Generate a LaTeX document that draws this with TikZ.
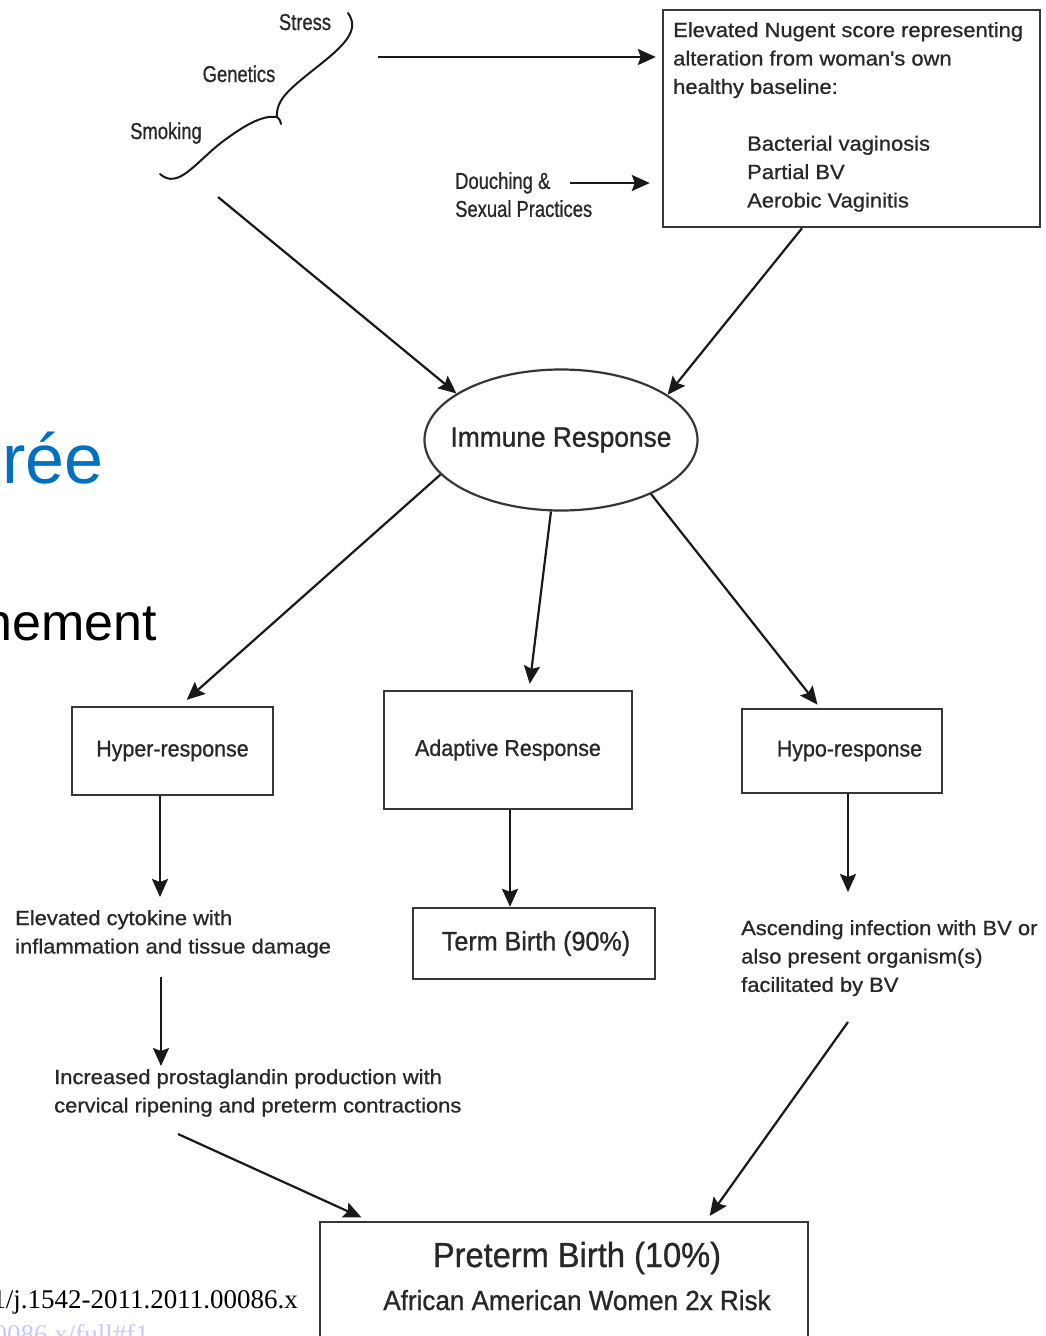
\documentclass[tikz,border=0pt]{standalone}
\usepackage{fontspec}
\setmainfont{Liberation Sans}
\newfontfamily\fA{Liberation Sans}[FakeStretch=0.80,FakeBold=0.8]
\newfontfamily\fN{Liberation Sans}[FakeStretch=0.94,FakeBold=0.9]
\newfontfamily\fB{Liberation Sans}[FakeStretch=1.07,FakeBold=0.8]
\newfontfamily\fT{Liberation Serif}
\usetikzlibrary{arrows.meta,shapes.geometric}
\definecolor{ink}{RGB}{25,25,25}
\definecolor{txt}{RGB}{40,40,40}
\definecolor{edge}{RGB}{55,55,55}
\definecolor{slideblue}{RGB}{0,112,192}
\definecolor{faintblue}{RGB}{200,200,250}
\begin{document}
\begin{tikzpicture}[x=1pt,y=-1pt,
  box/.style={draw=edge,line width=2.4pt,rectangle,inner sep=0pt,text=txt},
  arr/.style={-{Stealth[length=18pt,width=16pt,inset=3pt,fill=ink]},line width=2.2pt,draw=ink},
  brace/.style={line width=2pt,draw=ink,line cap=round},
  lbA/.style={inner sep=0pt,text=txt,font={\fA\fontsize{23}{28}\selectfont}},
  lbB/.style={inner sep=0pt,text=txt,align=left,font={\fB\fontsize{20.5}{28.4}\selectfont}},
  boxfont/.style={font={\fN\fontsize{22.8}{27}\selectfont}}]
\fill[white] (0,0) rectangle (1045,1336);
\clip (0,0) rectangle (1045,1336);

% slide fragments
\node[anchor=base east,inner sep=0pt,text=slideblue,font={\fontsize{70}{70}\selectfont}] (frag1) at (104,483) {rée};
\node[anchor=base east,inner sep=0pt,text=black,font={\fontsize{52}{52}\selectfont}] (frag2) at (157,640) {nement};
\node[anchor=base east,inner sep=0pt,text=black,font={\fT\fontsize{27}{27}\selectfont}] (cite1) at (298,1308) {1/j.1542-2011.2011.00086.x};
\node[anchor=base east,inner sep=0pt,text=faintblue,font={\fT\fontsize{27}{27}\selectfont}] (cite2) at (149,1343) {0086.x/full\#f1};

% risk factors
\node[lbA,anchor=base] (stress) at (305,30) {Stress};
\node[lbA,anchor=base] (gen) at (239,82) {Genetics};
\node[lbA,anchor=base] (smok) at (166,139) {Smoking};
\draw[brace] (348,13) .. controls (360,30) and (345,45) .. (317,67)
  .. controls (288,90) and (276,100) .. (277,117) .. controls (280,120) .. (281,124);
\draw[brace] (277,117) .. controls (262,115) and (245,125) .. (222,142)
  .. controls (195,163) and (178,190) .. (160,174);

% Nugent box
\node[box,minimum width=377pt,minimum height=217pt] (nug) at (851.5,118.5) {};
\node[lbB,anchor=north west] (nugtxt) at (673,22) {Elevated Nugent score representing\\alteration from woman's own\\healthy baseline:\\[28.4pt]\hspace*{74pt}Bacterial vaginosis\\\hspace*{74pt}Partial BV\\\hspace*{74pt}Aerobic Vaginitis};

\node[lbA,anchor=north west,align=left] (dou) at (455,172) {Douching \&\\Sexual Practices};

\coordinate (bA) at (378,57);
\draw[arr,shorten >=6pt] (bA) -- (bA -| nug.west);
\coordinate (dA) at (570,183);
\draw[arr,shorten >=12pt] (dA) -- (dA -| nug.west);

% immune response
\node[draw=edge,line width=2.2pt,ellipse,minimum width=273pt,minimum height=141pt,inner sep=0pt,text=txt,font={\fN\fontsize{28}{30}\selectfont}] (imm) at (561,440) {\makebox[0pt]{\raisebox{3pt}{Immune Response}}};
\coordinate (sA) at (218,197);
\draw[arr] (sA) -- (imm.156);
\draw[arr] ([xshift=-49.5pt]nug.south) -- (imm.23.5);

% three responses
\node[box,boxfont,minimum width=201pt,minimum height=88pt] (hyper) at (172.5,751) {Hyper-response};
\node[box,boxfont,minimum width=248pt,minimum height=118pt] (adapt) at (508,750) {Adaptive Response};
\node[box,boxfont,minimum width=200pt,minimum height=84pt] (hypo) at (842,751) {\hspace*{15pt}Hypo-response};
\draw[arr,shorten >=9pt] (imm.196.6) -- ([xshift=7.5pt]hyper.north);
\draw[arr,shorten >=6pt] (imm.262) -- ([xshift=21pt]adapt.north);
\draw[arr,shorten >=4pt] (imm.329.5) -- ([xshift=-22pt]hypo.north);

% term birth
\node[box,font={\fN\fontsize{26.7}{30}\selectfont},minimum width=242pt,minimum height=71pt] (term) at (534,943.5) {\hspace*{4pt}Term Birth (90\%)};
\draw[arr] ([xshift=2pt]adapt.south) -- ([xshift=2pt]adapt.south |- term.north);

% hyper branch
\node[lbB,anchor=north west] (cyto) at (15,910) {Elevated cytokine with\\inflammation and tissue damage};
\node[lbB,anchor=north west] (prost) at (54,1069) {Increased prostaglandin production with\\cervical ripening and preterm contractions};
\draw[arr,shorten >=13pt] ([xshift=-12.5pt]hyper.south) -- ([xshift=-12.5pt]hyper.south |- cyto.north);
\coordinate (xk) at (161,0);
\draw[arr,shorten <=19pt,shorten >=3pt] (xk |- cyto.south) -- (xk |- prost.north);

% hypo branch
\node[lbB,anchor=north west] (asc) at (741,920) {Ascending infection with BV or\\also present organism(s)\\facilitated by BV};
\draw[arr,shorten >=28pt] ([xshift=6pt]hypo.south) -- ([xshift=6pt]hypo.south |- asc.north);

% preterm birth
\node[box,minimum width=488pt,minimum height=136pt] (pb) at (564,1290) {};
\node[anchor=base,inner sep=0pt,text=txt,font={\fN\fontsize{34.7}{36}\selectfont}] (pbt1) at (577,1267) {Preterm Birth (10\%)};
\node[anchor=base,inner sep=0pt,text=txt,font={\fN\fontsize{27.7}{30}\selectfont}] (pbt2) at (577,1310) {African American Women 2x Risk};
\coordinate (pA) at (178,1134);
\draw[arr,shorten >=8pt] (pA) -- ([xshift=50pt]pb.north west);
\coordinate (aA) at (848,1022);
\draw[arr,shorten >=6pt] (aA) -- ([xshift=-103pt]pb.north east);
\end{tikzpicture}
\end{document}
